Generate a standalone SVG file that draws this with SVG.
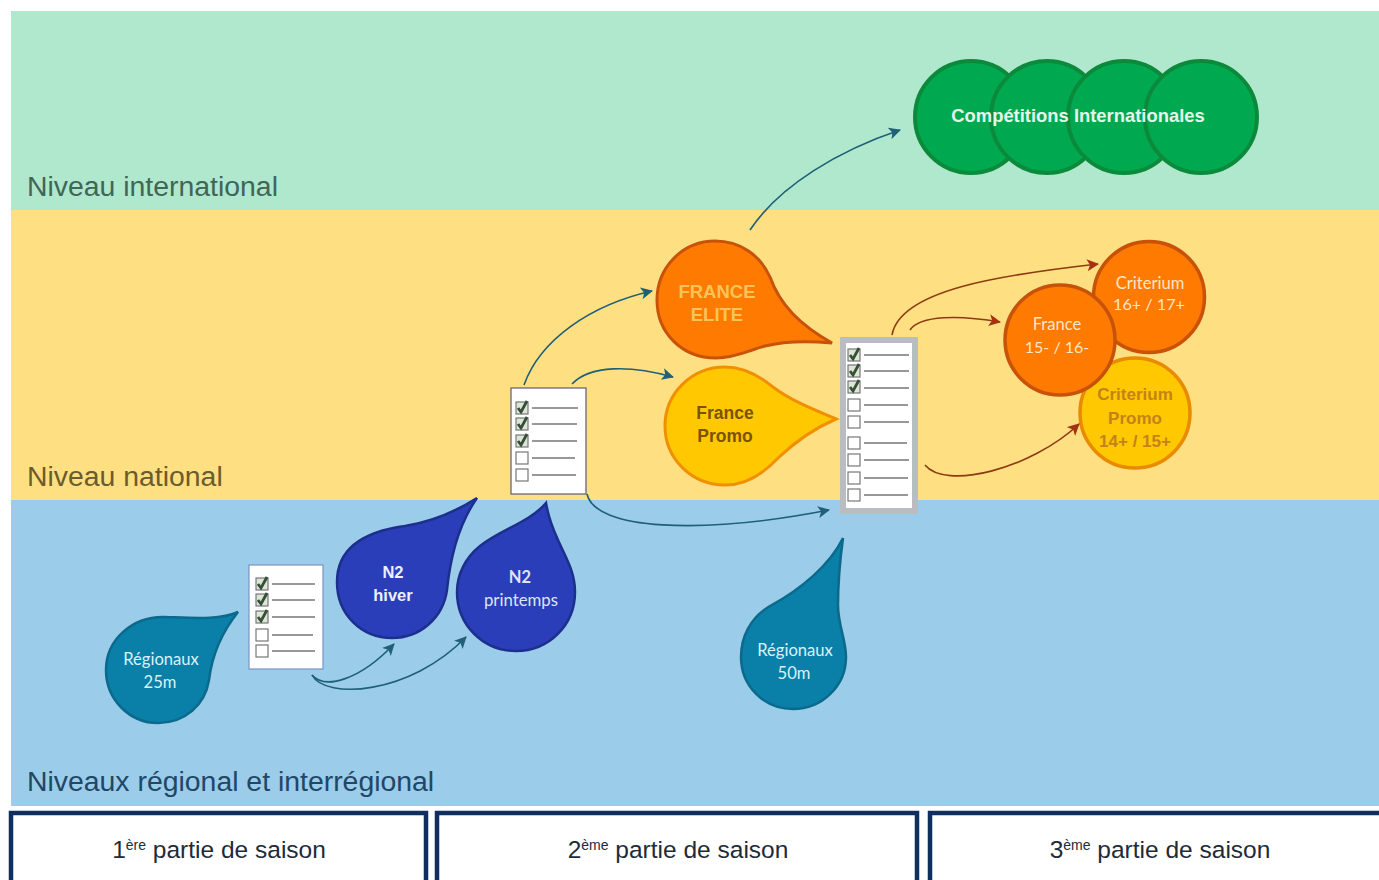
<svg xmlns="http://www.w3.org/2000/svg" width="1379" height="880" viewBox="0 0 1379 880">
<style>
.band{font:28.4px "Liberation Sans",Arial,sans-serif}
.cal{font-family:Lato,"Open Sans",sans-serif;text-anchor:middle}
.ar{font-family:"Liberation Sans",Arial,sans-serif;text-anchor:middle}
.tab{fill:#fff;stroke:#0f2f5f;stroke-width:4.5}
.tabt{font:24.5px "Liberation Sans",Arial,sans-serif;fill:#1d2b3a;text-anchor:middle}
.sup{font-size:14px}
.con{fill:none;stroke-width:1.6}
.t{stroke:#1f5f78;marker-end:url(#mt)}
.r{stroke:#8e3a12;marker-end:url(#mr)}
.ln{stroke:#777;stroke-width:1.5}
.bx{fill:#fff;stroke:#777;stroke-width:1.2}
.bxon{fill:#dfe6d6;stroke:#777;stroke-width:1.2}
.ck{fill:none;stroke:#34503a;stroke-width:2.8}
</style>
<defs>
<marker id="mt" markerUnits="userSpaceOnUse" markerWidth="14" markerHeight="14" refX="11" refY="6" orient="auto"><path d="M0,0 L12,6 L0,12 L3,6Z" fill="#1f5f78"/></marker>
<marker id="mr" markerUnits="userSpaceOnUse" markerWidth="14" markerHeight="14" refX="11" refY="6" orient="auto"><path d="M0,0 L12,6 L0,12 L3,6Z" fill="#a5330f"/></marker>
<g id="on"><rect class="bxon" x="0" y="-6" width="12" height="12"/><path class="ck" d="M2,0 L5,4 L11,-7"/></g>
<rect id="off" class="bx" x="0" y="-6" width="12" height="12"/>
</defs>
<rect width="1379" height="880" fill="#fff"/>
<g id="bands">
<rect x="11" y="11" width="1368" height="199" fill="#b0e8cd"/>
<rect x="11" y="210" width="1368" height="290" fill="#fee083"/>
<rect x="11" y="500" width="1368" height="306" fill="#9bcce9"/>
<text class="band" x="27" y="196" fill="#3f6658">Niveau international</text>
<text class="band" x="27" y="486" fill="#6a5c2c">Niveau national</text>
<text class="band" x="27" y="791" fill="#1f4766">Niveaux régional et interrégional</text>
</g>
<g id="competitions">
<g fill="#00a94f" stroke="#0b8a3c" stroke-width="4">
<circle cx="971" cy="117" r="56"/><circle cx="1047" cy="117" r="56"/><circle cx="1124" cy="117" r="56"/><circle cx="1201" cy="117" r="56"/>
</g>
<text class="ar" x="1078" y="122" font-size="18.4" font-weight="bold" fill="#e4f6ea">Compétitions Internationales</text>
</g>
<g id="france-elite">
<path d="M832,343 C800,325 780,305 770,277 C760,255 740,241 715,241 C682,241 657,268 657,300 C657,333 682,358 716,358 C735,358 750,350 765,346 C785,341 810,341 832,343Z" fill="#ff7a00" stroke="#c8520a" stroke-width="3"/>
<text class="ar" x="717" y="298" font-size="18.5" font-weight="bold" fill="#f8c45a">FRANCE</text>
<text class="ar" x="717" y="321" font-size="18.5" font-weight="bold" fill="#f8c45a">ELITE</text>
</g>
<g id="france-promo">
<path d="M836,419 C810,408 790,400 773,387 C762,378 745,367 725,367 C692,367 665,393 665,426 C665,459 692,485 725,485 C748,485 765,472 778,458 C795,442 815,428 836,419Z" fill="#ffc800" stroke="#f09000" stroke-width="3"/>
<text class="ar" x="725" y="419" font-size="17.5" font-weight="bold" fill="#7b5200">France</text>
<text class="ar" x="725" y="442" font-size="17.5" font-weight="bold" fill="#7b5200">Promo</text>
</g>
<g id="criterium-promo">
<circle cx="1135" cy="413" r="55" fill="#ffc800" stroke="#e98a00" stroke-width="3.5"/>
<text class="ar" x="1135" y="400" font-size="17" font-weight="bold" fill="#c5821a">Criterium</text>
<text class="ar" x="1135" y="424" font-size="17" font-weight="bold" fill="#c5821a">Promo</text>
<text class="ar" x="1135" y="447" font-size="17" font-weight="bold" fill="#c5821a">14+ / 15+</text>
</g>
<g id="criterium-16">
<circle cx="1149" cy="297" r="55.5" fill="#ff7a00" stroke="#c8520a" stroke-width="3.5"/>
<text class="cal" x="1150" y="289" font-size="16.6" fill="#fbe6c8">Criterium</text>
<text class="cal" x="1149" y="310" font-size="16.2" fill="#fbe6c8">16+ / 17+</text>
</g>
<g id="france-15">
<circle cx="1060" cy="340" r="55" fill="#ff7a00" stroke="#c8520a" stroke-width="3.5"/>
<text class="cal" x="1057" y="330" font-size="16.6" fill="#fbe6c8">France</text>
<text class="cal" x="1057" y="353" font-size="16" fill="#fbe6c8">15- / 16-</text>
</g>
<g id="n2-hiver">
<path d="M477,498 C455,512 430,522 405,526 C368,531 337,545 337,582 C337,615 362,638 392,638 C420,638 443,618 447,590 C450,560 458,525 477,498Z" fill="#2a3eb9" stroke="#1c2f8c" stroke-width="2.5"/>
<text class="ar" x="393" y="578" font-size="16.5" font-weight="bold" fill="#eef">N2</text>
<text class="ar" x="393" y="601" font-size="16.5" font-weight="bold" fill="#eef">hiver</text>
</g>
<g id="n2-printemps">
<path d="M546,503 C530,522 500,530 480,546 C465,558 457,575 457,592 C457,625 483,651 516,651 C549,651 575,625 575,592 C575,572 566,558 558,540 C552,527 548,515 546,503Z" fill="#2a3eb9" stroke="#1c2f8c" stroke-width="2.5"/>
<text class="cal" x="520" y="583" font-size="16.5" font-weight="bold" fill="#dde4f8">N2</text>
<text class="cal" x="521" y="606" font-size="16.8" fill="#dde4f8">printemps</text>
</g>
<g id="regionaux-25">
<path d="M238,612 C220,620 195,618 165,617 C132,616 106,640 106,670 C106,700 130,723 158,723 C185,723 205,705 209,680 C212,655 222,632 238,612Z" fill="#0a7fa8" stroke="#0b6a8c" stroke-width="2.5"/>
<text class="cal" x="161" y="665" font-size="16.6" fill="#d8f2fa">Régionaux</text>
<text class="cal" x="160" y="688" font-size="16.6" fill="#d8f2fa">25m</text>
</g>
<g id="regionaux-50">
<path d="M843,538 C830,565 800,590 770,606 C750,618 741,637 741,657 C741,686 764,709 793,709 C822,709 846,686 846,657 C846,640 838,625 838,605 C838,580 840,560 843,538Z" fill="#0a7fa8" stroke="#0b6a8c" stroke-width="2.5"/>
<text class="cal" x="795" y="656" font-size="16.6" fill="#d8f2fa">Régionaux</text>
<text class="cal" x="794" y="679" font-size="16.6" fill="#d8f2fa">50m</text>
</g>
<g id="checklist-1">
<rect x="249" y="565" width="74" height="104" fill="#fff" stroke="#7b93c4" stroke-width="1.2"/>
<use href="#on" x="256" y="584"/><use href="#on" x="256" y="600"/><use href="#on" x="256" y="617"/><use href="#off" x="256" y="635"/><use href="#off" x="256" y="651"/>
<path class="ln" d="M272,584H315M272,600H315M272,617H315M272,635H313M272,651H315"/>
</g>
<g id="checklist-2">
<rect x="511" y="388" width="75" height="106" fill="#fff" stroke="#5b5a78" stroke-width="1.2"/>
<use href="#on" x="516" y="408"/><use href="#on" x="516" y="424"/><use href="#on" x="516" y="441"/><use href="#off" x="516" y="458"/><use href="#off" x="516" y="475"/>
<path class="ln" d="M532,408H578M532,424H577M532,441H577M532,458H575M532,475H576"/>
</g>
<g id="checklist-3">
<rect x="843" y="340" width="72" height="171" fill="#fff" stroke="#b9bdc2" stroke-width="6"/>
<use href="#on" x="848" y="355"/><use href="#on" x="848" y="371"/><use href="#on" x="848" y="387"/><use href="#off" x="848" y="405"/><use href="#off" x="848" y="422"/><use href="#off" x="848" y="443"/><use href="#off" x="848" y="460"/><use href="#off" x="848" y="478"/><use href="#off" x="848" y="495"/>
<path class="ln" d="M864,355H909M864,371H909M864,388H909M864,405H908M864,422H909M864,443H907M864,460H909M864,478H908M864,495H908"/>
</g>
<g id="connectors">
<path class="con t" d="M750,230 C780,185 840,150 900,130"/>
<path class="con t" d="M524,385 C540,340 590,305 652,291"/>
<path class="con t" d="M572,384 C590,365 630,365 673,377"/>
<path class="con t" d="M587,494 C595,530 700,535 829,510"/>
<path class="con t" d="M312,675 C325,690 360,680 394,644"/>
<path class="con t" d="M312,675 C325,700 410,695 466,637"/>
<path class="con r" d="M892,335 C900,290 1000,275 1098,264"/>
<path class="con r" d="M910,330 C920,315 960,315 1000,322"/>
<path class="con r" d="M925,465 C945,490 1030,470 1079,424"/>
</g>
<g id="tab-1"><path class="tab" d="M11,880V813H426V880"/><text class="tabt" x="219" y="858">1<tspan class="sup" dy="-8">ère</tspan><tspan dy="8"> partie de saison</tspan></text></g>
<g id="tab-2"><path class="tab" d="M437,880V813H917V880"/><text class="tabt" x="678" y="858">2<tspan class="sup" dy="-8">ème</tspan><tspan dy="8"> partie de saison</tspan></text></g>
<g id="tab-3"><path class="tab" d="M930,880V813H1385V880"/><text class="tabt" x="1160" y="858">3<tspan class="sup" dy="-8">ème</tspan><tspan dy="8"> partie de saison</tspan></text></g>
</svg>
